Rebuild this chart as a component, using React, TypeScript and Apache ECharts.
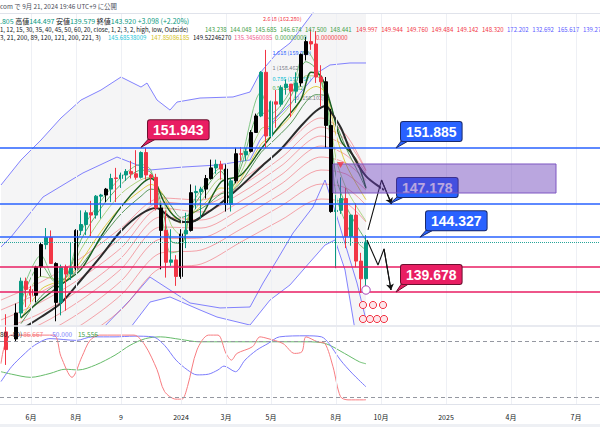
import React, { useEffect, useRef } from "react";
import * as echarts from "echarts";

// ---------- DATA (weekly USD/JPY, index = position in weeks[]) ----------
const weeks = [
  "2023-04-24","2023-05-01","2023-05-08","2023-05-15","2023-05-22","2023-05-29","2023-06-05","2023-06-12","2023-06-19","2023-06-26",
  "2023-07-03","2023-07-10","2023-07-17","2023-07-24","2023-07-31","2023-08-07","2023-08-14","2023-08-21","2023-08-28","2023-09-04",
  "2023-09-11","2023-09-18","2023-09-25","2023-10-02","2023-10-09","2023-10-16","2023-10-23","2023-10-30","2023-11-06","2023-11-13",
  "2023-11-20","2023-11-27","2023-12-04","2023-12-11","2023-12-18","2023-12-25","2024-01-01","2024-01-08","2024-01-15","2024-01-22",
  "2024-01-29","2024-02-05","2024-02-12","2024-02-19","2024-02-26","2024-03-04","2024-03-11","2024-03-18","2024-03-25","2024-04-01",
  "2024-04-08","2024-04-15","2024-04-22","2024-04-29","2024-05-06","2024-05-13","2024-05-20","2024-05-27","2024-06-03","2024-06-10",
  "2024-06-17","2024-06-24","2024-07-01","2024-07-08","2024-07-15","2024-07-22","2024-07-29","2024-08-05","2024-08-12","2024-08-19",
  "2024-08-26","2024-09-02","2024-09-09","2024-09-16"
];
const opens = [
  134.2,136.3,134.8,135.7,137.9,140.6,139.9,139.4,141.8,143.7,
  144.3,142.1,138.8,141.8,141.2,141.7,144.9,145.4,146.4,146.2,
  147.8,147.9,148.4,149.35,149.3,149.6,149.9,149.7,149.4,151.5,
  149.6,149.4,146.8,144.9,142.2,142.4,141.0,144.6,144.9,148.1,
  148.2,148.4,149.3,150.2,150.5,150.1,147.1,149.1,151.4,151.3,
  151.6,153.2,154.6,158.3,152.9,155.8,155.6,157.0,157.3,156.7,
  157.4,159.8,160.9,160.7,157.9,157.5,153.8,146.5,146.6,147.6,
  144.4,146.2,142.3,140.805
];
const highs = [
  136.6,137.8,136.0,138.7,140.9,140.9,140.2,141.9,143.9,145.1,
  144.9,142.2,142.0,142.0,143.9,145.0,146.6,146.6,147.4,147.9,
  148.0,148.5,149.7,150.2,149.8,150.1,150.8,151.7,151.6,151.91,
  149.7,149.7,147.2,146.6,145.0,142.8,145.0,146.4,148.8,148.7,
  148.6,149.6,150.9,150.9,150.8,150.5,149.3,151.9,151.97,151.9,
  153.4,154.8,158.4,160.2,155.9,156.8,157.2,157.7,157.3,158.3,
  159.9,161.3,161.95,161.8,158.9,157.9,155.2,147.9,149.4,148.5,
  146.2,147.2,143.0,144.497
];
const lows = [
  133.0,133.5,133.7,135.5,137.5,138.4,138.8,138.8,141.0,143.3,
  142.1,137.2,137.7,138.1,140.7,141.5,144.5,144.5,144.4,145.9,
  145.9,147.3,147.3,147.3,148.5,149.1,149.3,149.2,149.3,149.2,
  147.1,146.6,141.6,140.9,141.9,140.2,140.8,143.4,144.8,146.7,
  145.9,147.6,149.2,149.7,149.2,146.5,146.5,148.9,150.8,150.8,
  151.5,153.2,154.5,151.9,152.8,153.6,155.4,156.4,154.5,155.7,
  157.1,159.3,160.2,157.4,155.4,151.9,146.4,141.7,146.3,143.4,
  143.6,141.8,139.6,139.579
];
const closes = [
  136.3,134.8,135.7,137.9,140.6,139.9,139.4,141.8,143.7,144.3,
  142.1,138.8,141.8,141.2,141.7,144.9,145.4,146.4,146.2,147.8,
  147.9,148.4,149.3,149.3,149.6,149.9,149.7,149.4,151.5,149.6,
  149.4,146.8,144.9,142.2,142.4,141.0,144.6,144.9,148.1,148.2,
  148.4,149.3,150.2,150.5,150.1,147.1,149.1,151.4,151.35,151.6,
  153.2,154.6,158.3,152.9,155.8,155.6,157.0,157.3,156.7,157.4,
  159.8,160.9,160.7,157.9,157.5,153.8,146.5,146.6,147.6,144.4,
  146.2,142.3,140.8,143.92
];
// bars drawn black by the "Outside" bar indicator (1 = flagged)
const flaggedBar = [
  0,0,0,1,0,0,0,1,1,0, 0,1,0,0,0,1,0,0,0,0, 0,1,0,0,0,0,0,0,0,0,
  0,0,1,0,0,0,1,0,1,0, 0,1,1,0,0,1,0,1,0,0, 1,1,0,0,0,0,0,0,0,0,
  1,1,0,0,0,1,1,0,0,0, 0,0,0,0
];

const xTickIdx = [6, 15, 24, 36, 45, 54, 67, 76, 89, 102, 115];
const xTickLabels = ["6月", "8月", "9", "2024", "3月", "5月", "8月", "10月", "2025", "4月", "7月"];

// horizontal levels
const levelPrices = [151.885, 147.178, 144.327, 141.8, 139.678];
const levelKinds = ["blue", "blue", "blue", "pink", "pink"];
const lastClose = 143.92;

// price callouts
const calloutIdx = [28, 79, 77.8, 83.8, 79];
const calloutPrices = [151.943, 151.885, 147.178, 144.327, 139.678];
const calloutKinds = ["pink", "blue", "blue", "blue", "pink"];

// purple zone + alert marker
const zoneIdx = [66.4, 111];
const zonePrices = [150.53, 148.07];
const alertPoint = [67.9, 150.44];

// fibonacci extension labels
const fibRatios = ["2.618", "1.618", "1", "0.786", "0.5", "0"];
const fibPrices = [162.28, 159.92, 158.462, 157.957, 157.282, 156.102];
const fibIdx = [52.4, 54.3, 54.3, 54.3, 54.3, 59.0];
const fibColors = ["#f23645", "#2962ff", "#787b86", "#00bcd4", "#4caf50", "#787b86"];

// projected zig-zags
const zigUp = [[73.4, 144.94], [76.1, 149.17], [78.1, 147.14]];
const zigDown = [[73.2, 144.09], [75.4, 141.97], [76.6, 143.33], [78, 139.85]];

// moving averages
const blackMA = [[4,136.5],[8,137.56],[12,138.75],[16,140.7],[20,142.73],[24,144.85],[28,146.29],[31,146.8],[34,145.95],[36,145.61],[38,145.61],[40,146.04],[44,147.23],[48,148.66],[52,150.28],[56,151.8],[60,153.75],[63,155.02],[65,155.44],[66,154.94],[68,153.58],[70,151.55],[73,149.5],[76.6,148.33]];
const darkGreenMA = [[4,137.5],[8,139.0],[12,140.3],[16,141.6],[20,144.4],[24,146.9],[28,148.8],[30,149.3],[31,148.92],[32.4,147.48],[34.4,146.21],[37.1,145.61],[39.8,145.95],[44,149.0],[48,149.6],[52,151.8],[56,153.9],[60,156.0],[62,158.3],[64,158.0],[66,155.5],[68,152.5],[71,150.9],[73,148.5]];

const shortIdx = [4,8,11,13,16,20,24,28,30,32,34,36,38,41,44,46,48,52,54,58,61,63,65,67,69,71,73];
const ema3 = [139.5,142.8,140.6,140.9,144.8,147.4,149.4,150.5,150.0,146.5,143.0,143.3,146.9,148.9,150.2,148.5,150.8,156.6,154.8,156.8,160.2,158.9,155.7,147.9,145.5,144.0,143.238];
const ema5 = [138.9,142.0,140.5,140.9,144.1,146.8,148.8,150.0,149.8,147.2,144.0,143.8,146.5,148.5,149.9,148.5,150.3,155.0,154.3,156.3,159.2,158.6,156.2,149.5,147.0,145.4,144.048];
const ema8 = [138.2,141.0,140.8,140.9,143.3,145.9,148.0,149.2,149.4,148.0,145.4,144.5,146.2,147.9,149.3,148.6,149.8,153.5,153.8,155.6,158.0,158.0,156.5,151.0,148.5,147.0,145.685];
const ema12 = [137.4,139.9,140.5,140.7,142.3,144.8,146.9,148.3,148.8,148.2,146.5,145.5,146.2,147.3,148.5,148.4,149.3,152.2,152.9,154.6,156.6,157.1,156.5,153.0,150.5,148.9,147.5];
const ema15 = [137.0,139.3,140.3,140.6,141.9,144.2,146.3,147.8,148.4,148.1,147.0,146.0,146.3,147.0,148.0,148.2,149.0,151.5,152.3,154.0,155.8,156.4,156.3,154.0,151.9,150.2,148.441];

const longIdx = [0, 8, 16, 24, 32, 40, 48, 56, 64, 69, 73];
const longMA1 = [139.0,140.53,142.56,145.1,147.65,147.48,149.17,151.72,154.43,152.99,149.997];
const longMA2 = [138.16,139.68,141.72,144.26,147.31,147.05,148.67,151.04,153.66,152.56,149.944];
const longMA3 = [137.31,138.83,140.87,143.41,146.8,146.46,148.07,150.36,152.9,151.97,149.76];
const longMA4 = [136.46,137.9,139.94,142.56,146.04,145.78,147.39,149.6,152.05,151.29,149.484];
const longMA5 = [135.61,136.97,139.0,141.63,145.19,145.1,146.72,148.83,151.12,150.61,149.142];
const longMA6 = [134.77,136.04,137.99,140.61,144.17,144.26,145.95,147.99,150.02,149.68,148.32];
const longMA7 = [133.75,135.02,136.88,139.43,142.99,143.24,145.02,146.97,148.83,148.5,147.05];
const longMA8 = [132.65,133.92,135.7,138.16,141.72,142.05,143.92,145.78,147.56,147.22,145.61];

// bands
const bandOuterUpper = [[0,148.75],[4,150.87],[8,152.56],[12,154.43],[16,155.95],[20,156.8],[24,157.9],[28,157.05],[29.2,157.39],[31.2,155.95],[33.8,155.1],[35.2,155.78],[39.8,156.12],[46.4,156.21],[49.8,156.63],[51.8,158.24],[55.2,159.93],[57.8,160.78],[59.8,161.88],[62.8,163.58],[65.8,165.27],[73,165.62]];
const bandInnerUpper = [[0,143.5],[2,144.34],[8.4,147.73],[16.4,149.77],[23.2,151.12],[29.8,150.02],[36.4,150.27],[43.2,150.44],[49.8,150.87],[51.8,152.56],[55.2,154.51],[59.2,156.21],[63.2,158.24],[65.8,158.92],[69.8,159.09],[73,159.09]];
const bandInnerLower = [[0,130.5],[11.8,133.07],[20,136.46],[25.8,139.0],[29.8,140.95],[33.8,139.85],[37.8,138.75],[43.8,138.33],[49.8,138.41],[52.4,140.44],[55.2,142.39],[58.4,144.68],[62.4,146.89],[64.8,149.17],[67.2,146.04],[69.8,142.39],[71.2,140.44],[73,137.31]];
const bandOuterLower = [[0,128.83],[8,130.53],[16,133.07],[24,135.61],[29.8,138.83],[33.8,139.26],[39.8,138.16],[43.2,137.56],[49.8,136.88],[53.8,139.0],[57.8,140.28],[61.8,142.22],[64.8,143.66],[66.8,144.09],[68.8,141.55],[70.8,136.46],[73,132.65]];

// oscillator pane
const oscRed = [[0,16],[2,97],[10.5,97],[12,36],[14.2,-23],[16.2,36],[17.8,82],[19.7,97],[26.6,97],[28.8,68],[31.2,-1],[32.7,-63],[35,-85],[36.2,-85],[37.3,-49],[39.2,55],[41.5,97],[43.4,97],[45,45],[46.1,26],[47.2,45],[50.3,64],[51.8,92],[53.4,87],[56.4,73],[58.7,45],[60.2,50],[61,92],[63.3,78],[64.8,73],[66.4,7],[67.9,-78],[69.4,-87],[72.5,-87],[73,-86.667]];
const oscBlue = [[0,-35],[2.1,7],[4.4,40],[6.7,68],[9.8,87],[15.1,82],[18.2,92],[22.8,92],[26.6,94],[30.4,92],[32.7,68],[35,26],[37.3,-2],[39.2,-16],[41.5,-14],[43.4,-2],[44.6,9],[46.9,-7],[48.8,26],[51.1,54],[53.4,73],[55.7,92],[61,95],[64.1,92],[65.6,73],[67.9,26],[70.2,-11],[73,-50]];
const oscGreen = [[0,-7],[2.1,-14],[5.9,-23],[9.8,-12],[12.8,0],[15.5,-2],[18.9,12],[22.8,40],[25.8,68],[28.9,87],[31.9,92],[35.8,85],[39.6,78],[45.7,78],[53.4,78],[61,78],[64.9,73],[68.7,45],[71.7,21],[73,15.556]];
const oscLevels = [80, -80];

// header values
const legendShortVals = ["143.238", "144.048", "145.685", "146.674", "147.500", "148.441"];
const legendLongVals = ["149.997", "149.944", "149.760", "149.484", "149.142", "148.320"];
const legendBandVals = ["172.202", "132.692", "165.617", "139.27"];

// ---------- STYLE ----------
const UP = "#089981";
const DOWN = "#f23645";
const KIND: Record<string, { fill: string; border: string }> = {
  blue: { fill: "#2962ff", border: "#1a2a6c" },
  pink: { fill: "#e91e63", border: "#6d0f2f" },
};
const calloutLayout = [
  { dx: 7, dy: -8 },
  { dx: 5, dy: -7 },
  { dx: 7, dy: -6.5 },
  { dx: 6, dy: -7 },
  { dx: 5, dy: -8 },
];
const fibAlign = ["bottom", "middle", "bottom", "top", "top", "middle"];
const fibDy = [-3.5, 0, 0, 0, 1, 0];
const FONT = '"Noto Sans CJK JP", "Noto Sans", sans-serif';

function pairs(idx: number[], vals: number[]) {
  return idx.map((i, k) => [i, vals[k]]);
}

function lineSeries(data: number[][], color: string, width: number, z = 2, axis = 0, smooth: number | boolean = 0.3) {
  return {
    type: "line",
    xAxisIndex: axis,
    yAxisIndex: axis,
    data,
    showSymbol: false,
    symbol: "none",
    smooth,
    silent: true,
    z,
    lineStyle: { color, width },
  };
}

function buildOption() {
  const candleData = weeks.map((_, i) => {
    const item: any = { value: [i, opens[i], closes[i], lows[i], highs[i]] };
    if (flaggedBar[i]) {
      item.itemStyle = { color: "#000", color0: "#000", borderColor: "#000", borderColor0: "#000" };
    }
    return item;
  });

  const xBase = {
    type: "value",
    min: -0.2,
    max: 119.8,
    axisLine: { show: false },
    axisTick: { show: false },
    splitLine: { show: false },
  };

  const series: any[] = [];

  // vertical grid lines
  [0, 1].forEach((ax) => {
    series.push({
      type: "line",
      xAxisIndex: ax,
      yAxisIndex: ax,
      data: [],
      silent: true,
      z: 0,
      markLine: {
        silent: true,
        symbol: "none",
        label: { show: false },
        lineStyle: { color: "#eef0f5", width: 1, type: "solid" },
        data: xTickIdx.map((v) => ({ xAxis: v })),
      },
    });
  });

  // band fill
  series.push({
    type: "custom",
    xAxisIndex: 0,
    yAxisIndex: 0,
    clip: true,
    silent: true,
    z: 1,
    data: [0],
    renderItem: (_p: any, api: any) => {
      const pts: number[][] = [];
      bandOuterUpper.forEach((d) => pts.push(api.coord(d)));
      bandOuterLower.slice().reverse().forEach((d) => pts.push(api.coord(d)));
      return { type: "polygon", shape: { points: pts }, style: { fill: "rgba(120,123,134,0.075)" } };
    },
  });

  // bands
  [bandOuterUpper, bandInnerUpper, bandInnerLower, bandOuterLower].forEach((b) =>
    series.push(lineSeries(b, "rgba(90,90,255,0.75)", 1, 2, 0, false))
  );

  // long ribbon
  [longMA1, longMA2, longMA3, longMA4, longMA5, longMA6, longMA7, longMA8].forEach((m) =>
    series.push(lineSeries(pairs(longIdx, m), "rgba(242,54,69,0.55)", 0.8))
  );
  // short ribbon
  const shortColors = ["#66bb6a", "#43a047", "#9ccc65", "#d8c21a", "#2e7d32"];
  [ema3, ema5, ema8, ema12, ema15].forEach((m, k) =>
    series.push(lineSeries(pairs(shortIdx, m), shortColors[k], 0.8))
  );
  series.push(lineSeries(darkGreenMA, "#1b5e20", 1.4));
  series.push(lineSeries(blackMA, "#2a2a2a", 2));

  // fib labels
  series.push({
    type: "custom",
    xAxisIndex: 0,
    yAxisIndex: 0,
    silent: true,
    z: 2,
    data: fibPrices.map((p, k) => [fibIdx[k], p]),
    renderItem: (params: any, api: any) => {
      const k = params.dataIndex;
      const [x, y] = api.coord([fibIdx[k], fibPrices[k]]);
      return {
        type: "text",
        x,
        y: y + fibDy[k],
        style: {
          text: `${fibRatios[k]} (${fibPrices[k].toFixed(3)})`,
          fill: fibColors[k],
          fontSize: 5.5,
          fontFamily: FONT,
          align: "left",
          verticalAlign: fibAlign[k],
        },
      };
    },
  });

  // candles
  series.push({
    type: "candlestick",
    xAxisIndex: 0,
    yAxisIndex: 0,
    data: candleData,
    encode: { x: 0, y: [1, 2, 3, 4] },
    barWidth: 3,
    z: 3,
    itemStyle: { color: UP, color0: DOWN, borderColor: UP, borderColor0: DOWN, borderWidth: 1 },
  });

  // horizontal levels + last price
  series.push({
    type: "line",
    xAxisIndex: 0,
    yAxisIndex: 0,
    data: [],
    z: 4,
    markLine: {
      silent: true,
      symbol: "none",
      label: { show: false },
      data: [
        ...levelPrices.map((p, k) => ({
          yAxis: p,
          lineStyle: { color: KIND[levelKinds[k]].fill, width: 1.6, type: "solid" },
        })),
        { yAxis: lastClose, lineStyle: { color: "#26a69a", width: 1, type: "dotted" } },
      ],
    },
  });

  // zig-zags
  [zigUp, zigDown].forEach((z) => {
    series.push({
      ...lineSeries(z, "#111", 1.1, 6, 0, false),
      markLine: {
        silent: true,
        symbol: ["none", "arrow"],
        symbolSize: 6,
        label: { show: false },
        lineStyle: { color: "#111", width: 1.1, type: "solid" },
        data: [[{ coord: z[z.length - 2] }, { coord: z[z.length - 1] }]],
      },
    });
  });

  // callouts
  series.push({
    type: "custom",
    xAxisIndex: 0,
    yAxisIndex: 0,
    silent: true,
    z: 7,
    data: calloutPrices.map((p, k) => [calloutIdx[k], p]),
    renderItem: (params: any, api: any) => {
      const k = params.dataIndex;
      const [ax, ay] = api.coord([calloutIdx[k], calloutPrices[k]]);
      const bx = ax + calloutLayout[k].dx;
      const by = ay + calloutLayout[k].dy;
      const c = KIND[calloutKinds[k]];
      return {
        type: "group",
        children: [
          {
            type: "polygon",
            shape: { points: [[ax, ay], [bx + 1, by - 1], [bx + 9, by - 1]] },
            style: { fill: c.fill, stroke: c.border, lineWidth: 1 },
          },
          {
            type: "text",
            x: bx,
            y: by,
            style: {
              text: calloutPrices[k].toFixed(3),
              fill: "#fff",
              fontSize: 14,
              fontWeight: "bold",
              fontFamily: '"Liberation Sans", Arial, sans-serif',
              align: "left",
              verticalAlign: "bottom",
              backgroundColor: c.fill,
              borderColor: c.border,
              borderWidth: 1,
              borderRadius: 2,
              padding: [3, 5, 2, 5],
            },
          },
        ],
      };
    },
  });

  // purple zone (drawn over the 147.178 callout)
  series.push({
    type: "line",
    xAxisIndex: 0,
    yAxisIndex: 0,
    data: [],
    z: 20,
    markArea: {
      silent: true,
      z: 20,
      itemStyle: { color: "rgba(103,58,183,0.45)", borderColor: "#7e57c2", borderWidth: 1 },
      data: [[{ coord: [zoneIdx[0], zonePrices[0]] }, { coord: [zoneIdx[1], zonePrices[1]] }]],
    },
  });
  series.push({
    type: "scatter",
    xAxisIndex: 0,
    yAxisIndex: 0,
    z: 21,
    silent: true,
    data: [alertPoint],
    symbol: "triangle",
    symbolRotate: 180,
    symbolSize: [7, 6],
    itemStyle: { color: "#f23645" },
  });

  // oscillator
  series.push({
    type: "line",
    xAxisIndex: 1,
    yAxisIndex: 1,
    data: [],
    markLine: {
      silent: true,
      symbol: "none",
      label: { show: false },
      lineStyle: { color: "#9598a1", width: 1, type: [4, 3] },
      data: oscLevels.map((v) => ({ yAxis: v })),
    },
  });
  series.push(lineSeries(oscGreen, "#66bb6a", 1, 3, 1));
  series.push(lineSeries(oscBlue, "#7b7bfc", 1, 3, 1));
  series.push(lineSeries(oscRed, "#f77c80", 1, 3, 1));

  const t = (text: string, x: number, y: number, fill: string, extra: any = {}) => ({
    type: "text",
    x,
    y,
    z: 100,
    silent: true,
    style: { text, fill, fontSize: 6, fontFamily: FONT, align: "left", verticalAlign: "middle", ...extra },
  });

  const graphics: any[] = [
    { type: "line", z: 50, shape: { x1: 0, y1: 13.5, x2: 600, y2: 13.5 }, style: { stroke: "#e0e3eb", lineWidth: 1 } },
    { type: "line", z: 50, shape: { x1: 0, y1: 326, x2: 600, y2: 326 }, style: { stroke: "#e0e3eb", lineWidth: 1.5 } },
    { type: "line", z: 50, shape: { x1: 0, y1: 404.5, x2: 600, y2: 404.5 }, style: { stroke: "#e0e3eb", lineWidth: 1 } },
    { type: "rect", z: 50, shape: { x: 0, y: 424, width: 600, height: 3 }, style: { fill: "#eef0f4" } },
    t("com で 9月 21, 2024 19:46 UTC+9 に公開", 0, 6, "#4a4e5a", { fontSize: 6.4 }),
    {
      type: "text",
      x: 0,
      y: 21,
      z: 100,
      style: {
        text: "{g|.805} {d|高値}{g|144.497} {d|安値}{g|139.579} {d|終値}{g|143.920} {g|+3.098 (+2.20%)}",
        fontSize: 7,
        fontFamily: FONT,
        verticalAlign: "middle",
        rich: {
          g: { fill: UP, fontSize: 7, fontFamily: FONT },
          d: { fill: "#131722", fontSize: 7, fontFamily: FONT },
        },
      },
    },
    t("1, 12, 15, 30, 35, 40, 45, 50, 60, 20, close, 1, 2, 3, 2, high, low, Outside)", 0, 29.5, "#131722"),
    ...legendShortVals.map((v, k) => t(v, 205 + 25 * k, 29.8, "#43a047")),
    ...legendLongVals.map((v, k) => t(v, 356 + 25.2 * k, 29.8, "#f23645")),
    ...legendBandVals.map((v, k) => t(v, 507 + 25.3 * k, 29.8, "#5b5bff")),
    t("3, 21, 200, 89, 120, 121, 200, 221, 3)", 0, 37.3, "#131722", { fontSize: 6.3 }),
    t("145.68538009", 108, 37.3, "#26c6da"),
    t("147.85086185", 151, 37.3, "#d4c21a"),
    t("149.52246270", 193, 37.3, "#131722"),
    t("135.34560085", 234, 37.3, "#f06292"),
    t("0.00000000", 275, 37.3, "#43a047"),
    t("0.00000000", 316, 37.3, "#f23645"),
    t("80, -80)", 0, 334, "#131722", { fontSize: 6.5 }),
    t("-86.667", 21, 334, "#f77c80", { fontSize: 6.5 }),
    t("-50.000", 50, 334, "#7b7bfc", { fontSize: 6.5 }),
    t("15.556", 78, 334, "#43a047", { fontSize: 6.5 }),
    // event markers
    { type: "circle", z: 60, shape: { cx: 366, cy: 290, r: 4.2 }, style: { fill: "#fff", stroke: "#ab47bc", lineWidth: 1 } },
    ...[363, 373, 383].map((cx) => ({ type: "circle", z: 60, shape: { cx, cy: 305, r: 3.6 }, style: { fill: "#fde6ea", stroke: "#f23645", lineWidth: 1 } })),
    ...[363, 370, 377, 384].map((cx) => ({ type: "circle", z: 60, shape: { cx, cy: 319, r: 3.6 }, style: { fill: "#fde6ea", stroke: "#f23645", lineWidth: 1 } })),
  ];

  return {
    animation: false,
    backgroundColor: "#ffffff",
    grid: [
      { left: 0, width: 600, top: 13, height: 312 },
      { left: 0, width: 600, top: 327, height: 77 },
    ],
    xAxis: [
      { ...xBase, gridIndex: 0, axisLabel: { show: false } },
      {
        ...xBase,
        gridIndex: 1,
        axisLabel: {
          show: true,
          customValues: xTickIdx,
          formatter: (v: number) => {
            const k = xTickIdx.indexOf(Math.round(v));
            return k >= 0 ? xTickLabels[k] : "";
          },
          color: "#131722",
          fontSize: 7,
          fontFamily: FONT,
          margin: 9,
        },
      },
    ],
    yAxis: [
      { type: "value", gridIndex: 0, min: 136.885, max: 163.325, show: false, splitLine: { show: false } },
      { type: "value", gridIndex: 1, min: -98.75, max: 120, show: false, splitLine: { show: false } },
    ],
    series,
    graphic: graphics,
  };
}

export default function App() {
  const ref = useRef<HTMLDivElement>(null);
  useEffect(() => {
    const chart = echarts.init(ref.current!, null, { renderer: "svg" });
    chart.setOption(buildOption() as any);
    return () => chart.dispose();
  }, []);
  return <div ref={ref} style={{ position: "fixed", left: 0, top: 0, width: 600, height: 441, background: "#fff" }} />;
}
